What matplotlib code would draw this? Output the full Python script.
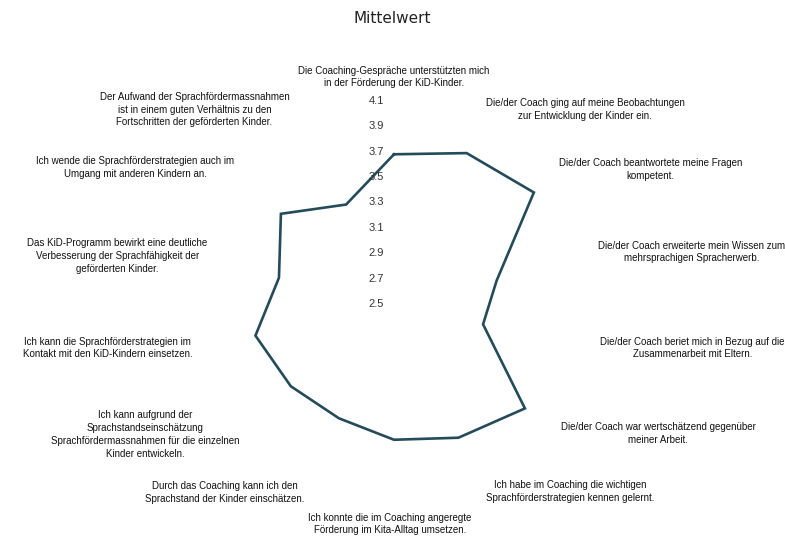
import numpy as np
import matplotlib.pyplot as plt

# statements, clockwise from the top
labels = [
    "Die Coaching-Gespräche unterstützten mich\nin der Förderung der KiD-Kinder.",
    "Die/der Coach ging auf meine Beobachtungen\nzur Entwicklung der Kinder ein.",
    "Die/der Coach beantwortete meine Fragen\nkompetent.",
    "Die/der Coach erweiterte mein Wissen zum\nmehrsprachigen Spracherwerb.",
    "Die/der Coach beriet mich in Bezug auf die\nZusammenarbeit mit Eltern.",
    "Die/der Coach war wertschätzend gegenüber\nmeiner Arbeit.",
    "Ich habe im Coaching die wichtigen\nSprachförderstrategien kennen gelernt.",
    "Ich konnte die im Coaching angeregte\nFörderung im Kita-Alltag umsetzen.",
    "Durch das Coaching kann ich den\nSprachstand der Kinder einschätzen.",
    "Ich kann aufgrund der\nSprachstandseinschätzung\nSprachfördermassnahmen für die einzelnen\nKinder entwickeln.",
    "Ich kann die Sprachförderstrategien im\nKontakt mit den KiD-Kindern einsetzen.",
    "Das KiD-Programm bewirkt eine deutliche\nVerbesserung der Sprachfähigkeit der\ngeförderten Kinder.",
    "Ich wende die Sprachförderstrategien auch im\nUmgang mit anderen Kindern an.",
    "Der Aufwand der Sprachfördermassnahmen\nist in einem guten Verhältnis zu den\nFortschritten der geförderten Kinder.",
]
mittelwert = [3.68, 3.82, 3.91, 3.33, 3.22, 3.82, 3.67,
              3.57, 3.50, 3.54, 3.62, 3.43, 3.64, 3.37]
rticks = [2.5, 2.7, 2.9, 3.1, 3.3, 3.5, 3.7, 3.9, 4.1]

# small hand nudges (pixels) so the labels sit like in the original
nudge = [(0, 0), (-2, 0), (-4, 0), (-6, 4), (-4, 4), (-2, 5), (-2, 7),
         (-4, 7), (4, 6), (14, 4), (9, 4), (24, 0), (9, 2), (-11, 0)]

font = ['Liberation Sans', 'DejaVu Sans']
txtcol = '#111111'

n = len(labels)
theta = np.arange(n) * 2 * np.pi / n

fig = plt.figure(figsize=(7.85, 5.4), dpi=100)
ax = fig.add_axes([0.2433, 0.0611, 0.5172, 0.7519], projection='polar')
ax.set_theta_zero_location('N')
ax.set_theta_direction(-1)
ax.set_ylim(2.5, 4.1)

ax.plot(np.append(theta, theta[0]), mittelwert + mittelwert[:1],
        color='#244b59', lw=1.9, solid_joinstyle='miter')

ax.grid(False)
ax.spines['polar'].set_visible(False)
ax.set_xticks([])
ax.set_yticks(rticks)
ax.set_yticklabels([])

for r in rticks:
    ax.annotate(f"{r:.1f}", (0, r), xytext=(-7, 0), textcoords='offset points',
                ha='right', va='center', fontsize=8, color='#333333',
                family=font, annotation_clip=False)

# category labels just outside the outer ring
for t, lab, (dx, dy) in zip(theta, labels, nudge):
    s, c = np.sin(t), np.cos(t)
    if abs(s) < 0.1:
        ha = 'center'
    elif s > 0:
        ha = 'left'
    else:
        ha = 'right'
    if c > 0.95:
        va = 'bottom'
    elif c < -0.95:
        va = 'top'
    else:
        va = 'center'
    ax.annotate(lab, (t, 4.2), xytext=(dx, dy), textcoords='offset pixels',
                ha=ha, va=va, multialignment='center', annotation_clip=False,
                fontsize=7, linespacing=1.35, color=txtcol, family=font)

fig.text(0.5, 0.965, "Mittelwert", ha='center', va='center',
         fontsize=11, color='#222222')

fig.savefig("out.png", dpi=100)
